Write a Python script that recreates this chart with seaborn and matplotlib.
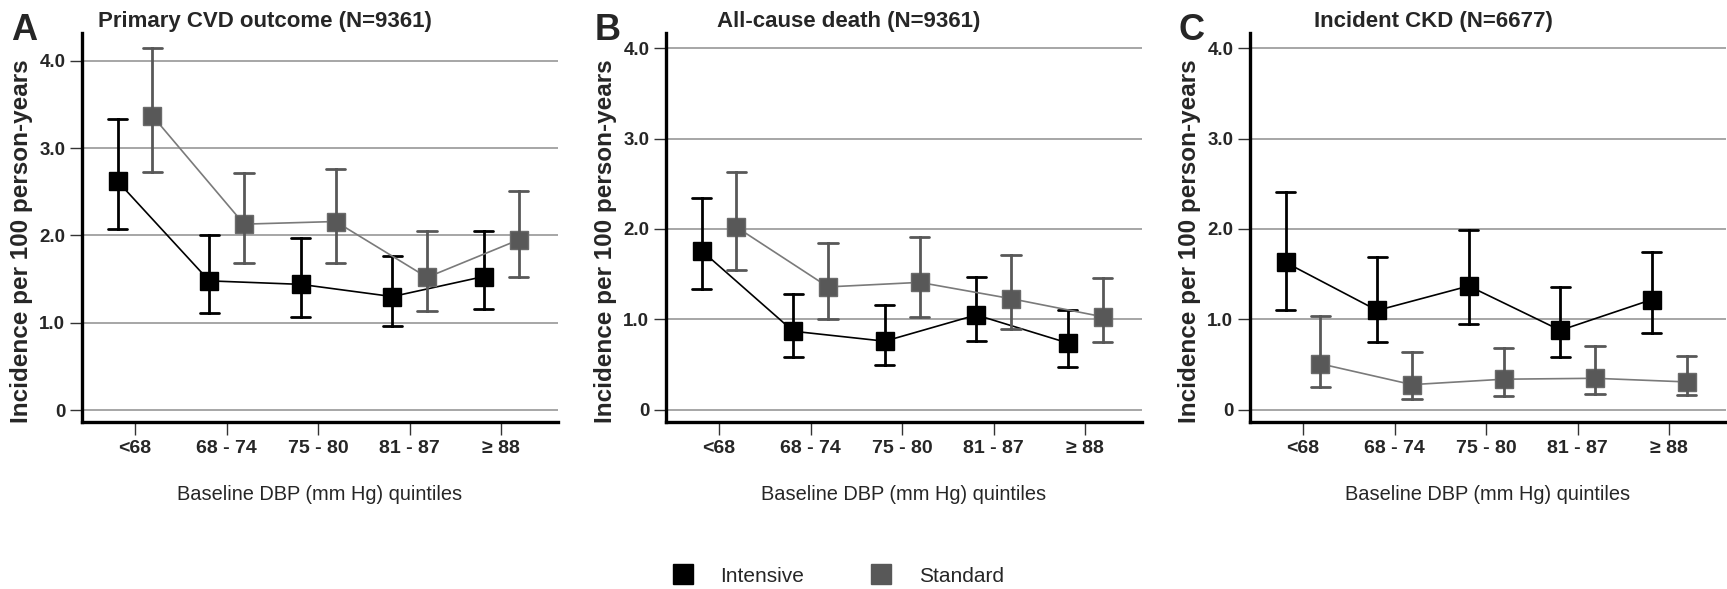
import numpy as np
import pandas as pd
import matplotlib
matplotlib.use("Agg")
import matplotlib.pyplot as plt
from matplotlib.lines import Line2D
import seaborn as sns

# ---- data -------------------------------------------------------------
quintiles = ["<68", "68 - 74", "75 - 80", "81 - 87", "≥ 88"]
groups = ["Intensive", "Standard"]

panel_letters = ["A", "B", "C"]
panel_titles = ["Primary CVD outcome (N=9361)",
                "All-cause death (N=9361)",
                "Incident CKD (N=6677)"]

# incidence per 100 person-years, with lower / upper 95% CI
cvd_int = [2.62, 1.48, 1.44, 1.30, 1.53]
cvd_int_lo = [2.08, 1.11, 1.07, 0.96, 1.16]
cvd_int_hi = [3.33, 2.01, 1.97, 1.76, 2.05]
cvd_std = [3.37, 2.13, 2.16, 1.52, 1.95]
cvd_std_lo = [2.73, 1.68, 1.68, 1.13, 1.53]
cvd_std_hi = [4.15, 2.72, 2.76, 2.05, 2.51]

death_int = [1.76, 0.87, 0.76, 1.05, 0.74]
death_int_lo = [1.34, 0.59, 0.50, 0.76, 0.48]
death_int_hi = [2.34, 1.28, 1.16, 1.47, 1.10]
death_std = [2.02, 1.36, 1.41, 1.23, 1.03]
death_std_lo = [1.55, 1.00, 1.03, 0.90, 0.75]
death_std_hi = [2.63, 1.84, 1.91, 1.71, 1.46]

ckd_int = [1.63, 1.10, 1.37, 0.88, 1.22]
ckd_int_lo = [1.10, 0.75, 0.95, 0.58, 0.85]
ckd_int_hi = [2.41, 1.69, 1.99, 1.36, 1.75]
ckd_std = [0.51, 0.28, 0.34, 0.35, 0.31]
ckd_std_lo = [0.25, 0.12, 0.15, 0.18, 0.16]
ckd_std_hi = [1.04, 0.64, 0.69, 0.71, 0.60]

yticks = [0, 1, 2, 3, 4]
ytick_labels = ["0", "1.0", "2.0", "3.0", "4.0"]

panels = [
    (cvd_int, cvd_int_lo, cvd_int_hi, cvd_std, cvd_std_lo, cvd_std_hi),
    (death_int, death_int_lo, death_int_hi, death_std, death_std_lo, death_std_hi),
    (ckd_int, ckd_int_lo, ckd_int_hi, ckd_std, ckd_std_lo, ckd_std_hi),
]
ylims = [(-0.137, 4.32), (-0.133, 4.166), (-0.133, 4.166)]


def long_table(mean, lo, hi, group):
    # three rows per quintile (lower, estimate, upper): the median is the
    # estimate and the full 0-100 percentile range is the CI
    rows = []
    for q, m, l, h in zip(quintiles, mean, lo, hi):
        for v in (l, m, h):
            rows.append({"quintile": q, "group": group, "incidence": v})
    return rows


# ---- style ------------------------------------------------------------
sns.set_style("white")
plt.rcParams["font.family"] = ["Liberation Sans", "DejaVu Sans"]

colors = {"Intensive": "#000000", "Standard": "#585858"}
W, H = 1727, 589
fig = plt.figure(figsize=(W / 100, H / 100), dpi=100)

spine_px = [82, 666, 1250]
ax_w_px = 476
ax_top_px, ax_bot_px = 33, 422

for i, (vals, letter, title, ylim) in enumerate(zip(panels, panel_letters, panel_titles, ylims)):
    left = spine_px[i] / W
    ax = fig.add_axes([left, 1 - ax_bot_px / H, ax_w_px / W, (ax_bot_px - ax_top_px) / H])

    df = pd.DataFrame(long_table(vals[0], vals[1], vals[2], "Intensive")
                      + long_table(vals[3], vals[4], vals[5], "Standard"))

    sns.pointplot(data=df, x="quintile", y="incidence", hue="group",
                  order=quintiles, hue_order=groups, palette=colors,
                  estimator="median", errorbar=("pi", 100),
                  dodge=0.38, capsize=0.21, markers="s",
                  markersize=13, markeredgewidth=1.0, linewidth=1.2,
                  err_kws={"linewidth": 2.0},
                  legend=False, ax=ax)

    # lighter connecting line for the standard arm
    for ln in ax.lines:
        if ln.get_marker() == "s" and matplotlib.colors.to_hex(ln.get_color()) == colors["Standard"]:
            ln.set_markerfacecolor(colors["Standard"])
            ln.set_markeredgecolor("#6a6a6a")
            ln.set_color("#7a7a7a")

    ax.set_xlim(-0.58, 4.62)
    ax.set_ylim(*ylim)
    ax.set_yticks(yticks)
    ax.set_yticklabels(ytick_labels)
    ax.yaxis.grid(True, color="#8e8e8e", linewidth=1.1)
    ax.xaxis.grid(False)
    ax.set_axisbelow(True)

    for s in ("top", "right"):
        ax.spines[s].set_visible(False)
    for s in ("left", "bottom"):
        ax.spines[s].set_linewidth(2.4)
        ax.spines[s].set_color("black")

    ax.tick_params(axis="both", direction="out", length=9, width=1.0, color="#333333",
                   left=True, bottom=True)
    ax.tick_params(axis="y", labelsize=13.5, pad=3)
    ax.tick_params(axis="x", labelsize=14, pad=4)
    for t in ax.get_yticklabels() + ax.get_xticklabels():
        t.set_fontweight("bold")

    ax.set_ylabel("Incidence per 100 person-years", fontsize=17.5, fontweight="bold", labelpad=7)
    ax.yaxis.set_label_coords(-0.103, 0.465)
    ax.set_xlabel("Baseline DBP (mm Hg) quintiles", fontsize=14.4, labelpad=20)

    cx = spine_px[i] + ax_w_px / 2 - 55
    fig.text(cx / W, 1 - 22 / H, title, ha="center", va="center",
             fontsize=16, fontweight="bold")
    fig.text((spine_px[i] - 71) / W, 1 - 30 / H, letter, ha="left", va="center",
             fontsize=26, fontweight="bold")

handles = [Line2D([], [], marker="s", linestyle="none", markersize=14.5,
                  markerfacecolor=colors[g], markeredgecolor=colors[g]) for g in groups]
fig.legend(handles, groups, loc="center", bbox_to_anchor=(838 / W, 1 - 576 / H),
           ncol=2, frameon=False, handlelength=1.0, handletextpad=1.3,
           columnspacing=3.2, prop={"size": 15})

fig.savefig("out.png", dpi=100)
